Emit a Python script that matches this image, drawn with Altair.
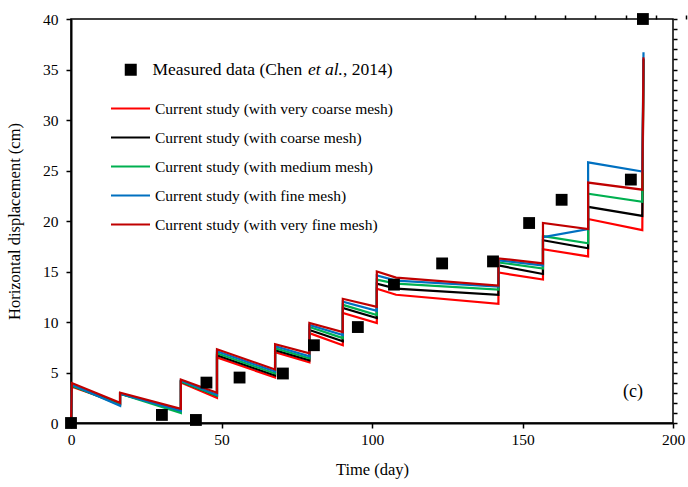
import altair as alt
import pandas as pd

# ---- data ----
jump_t = [0.0, 16.3, 36.5, 48.5, 67.8, 79.2, 90.3, 101.6, 142.0, 156.8, 171.8, 189.8]
mid_t = 108.0          # extra point inside the 101.6-142 segment (curved start)
final_t = 190.2

series_names = [
    "Current study (with very coarse mesh)",
    "Current study (with coarse mesh)",
    "Current study (with medium mesh)",
    "Current study (with fine mesh)",
    "Current study (with very fine mesh)",
]
series_colors = ["#ff0000", "#000000", "#00b050", "#0070c0", "#c00000"]

very_coarse_start = [3.6, 2.9, 4.0, 6.5, 7.0, 8.9, 10.9, 13.3, 14.9, 17.2, 20.2]
very_coarse_end = [1.9, 1.3, 2.5, 4.5, 6.0, 7.7, 9.9, 11.8, 14.2, 16.5, 19.1]
very_coarse_mid = 12.7
very_coarse_final = 36.0

coarse_start = [3.7, 2.9, 4.1, 6.7, 7.2, 9.2, 11.4, 13.8, 15.6, 18.1, 21.4]
coarse_end = [1.9, 1.2, 2.7, 4.7, 6.2, 8.1, 10.4, 12.7, 14.75, 17.3, 20.5]
coarse_mid = 13.3
coarse_final = 36.0

medium_start = [3.7, 2.9, 4.1, 6.9, 7.4, 9.5, 11.7, 14.2, 15.9, 18.5, 22.7]
medium_end = [1.8, 1.0, 2.7, 4.9, 6.4, 8.4, 10.7, 13.2, 15.3, 17.8, 21.9]
medium_mid = 13.8
medium_final = 36.0

fine_start = [3.8, 2.9, 4.2, 7.1, 7.6, 9.7, 12.0, 14.6, 16.1, 18.4, 25.8]
fine_end = [1.7, 1.2, 2.8, 5.1, 6.6, 8.7, 11.1, 13.5, 15.6, 19.2, 24.9]
fine_mid = 14.1
fine_final = 36.7

very_fine_start = [3.95, 3.0, 4.3, 7.3, 7.8, 9.9, 12.3, 15.0, 16.3, 19.8, 23.8]
very_fine_end = [2.0, 1.4, 3.0, 5.3, 6.9, 9.0, 11.5, 13.6, 15.8, 19.2, 23.1]
very_fine_mid = 14.4
very_fine_final = 36.2

measured_label_parts = ["Measured data (Chen", "et al.", ", 2014)"]
measured_t = [0, 30.2, 41.5, 45, 56, 70.4, 80.7, 95.3, 107.3, 123.3, 140.2, 152.2, 163, 186, 190]
measured_y = [0, 0.8, 0.3, 4.0, 4.5, 4.9, 7.7, 9.5, 13.7, 15.8, 16.0, 19.8, 22.1, 24.1, 40.0]

x_major = [0, 50, 100, 150, 200]
x_minor = list(range(0, 201, 10))
y_major = list(range(0, 41, 5))
y_minor = list(range(0, 41, 1))

# ---- build the line table ----
all_series = [
    (very_coarse_start, very_coarse_end, very_coarse_mid, very_coarse_final),
    (coarse_start, coarse_end, coarse_mid, coarse_final),
    (medium_start, medium_end, medium_mid, medium_final),
    (fine_start, fine_end, fine_mid, fine_final),
    (very_fine_start, very_fine_end, very_fine_mid, very_fine_final),
]
rows = []
for name, (st, en, mid, fin) in zip(series_names, all_series):
    pts = [(0.0, 0.0)]
    for i in range(len(st)):
        t0 = jump_t[i] + (0.3 if i == 0 else 0.0)
        pts.append((t0, st[i]))
        if i == 7:
            pts.append((mid_t, mid))
        pts.append((jump_t[i + 1], en[i]))
    pts.append((final_t, fin))
    for k, (t, y) in enumerate(pts):
        rows.append({"t": t, "y": y, "series": name, "seq": k})
lines_df = pd.DataFrame(rows)
meas_df = pd.DataFrame({"t": measured_t, "y": measured_y, "label": measured_label_parts[0]})

FONT = "Liberation Serif"
FS = 15.5
FS_MEAS = 17.5
xs = alt.Scale(domain=[0, 200], nice=False, zero=False)
ys = alt.Scale(domain=[0, 40], nice=False, zero=False)

lines = alt.Chart(lines_df).mark_line(strokeWidth=2.2, strokeJoin="miter").encode(
    x=alt.X("t:Q", scale=xs, axis=alt.Axis(
        values=x_major, title="Time (day)", orient="bottom", tickSize=5, tickWidth=1.5,
        domainWidth=2, labelPadding=4, titlePadding=14, format="d", labelFlush=False)),
    y=alt.Y("y:Q", scale=ys, axis=alt.Axis(
        values=y_major, title="Horizontal displacement (cm)", orient="left", tickSize=5,
        tickWidth=1.5, domainWidth=2, labelPadding=8, titlePadding=20, format="d",
        labelFlush=False)),
    color=alt.Color("series:N", scale=alt.Scale(domain=series_names, range=series_colors),
                    legend=alt.Legend(title=None, orient="none", legendX=39, legendY=69,
                                      symbolType="stroke", symbolSize=1521, symbolStrokeWidth=2,
                                      labelOffset=4, rowPadding=0, padding=0, labelLimit=400,
                                      labelFontSize=FS, labelFont=FONT, labelColor="black")),
    order=alt.Order("seq:Q"),
)

points = alt.Chart(meas_df).mark_point(shape="square", filled=True, size=140, opacity=1).encode(
    x=alt.X("t:Q", scale=xs, axis=None),
    y=alt.Y("y:Q", scale=ys, axis=None),
    color=alt.value("black"),
    shape=alt.Shape("label:N", scale=alt.Scale(range=["square"]),
                    legend=alt.Legend(title=None, orient="none", legendX=51, legendY=42,
                                      symbolSize=144, symbolFillColor="black",
                                      symbolStrokeColor="black", symbolOpacity=1,
                                      labelOffset=13, padding=0,
                                      labelLimit=400, labelFontSize=FS_MEAS, labelFont=FONT,
                                      labelColor="black")),
)

# rest of the measured-data legend label ("et al." in italics)
label_et = alt.Chart(pd.DataFrame({"txt": [measured_label_parts[1]]})).mark_text(
    font=FONT, fontSize=FS_MEAS, fontStyle="italic", color="black", align="left",
    baseline="middle"
).encode(text="txt:N", x=alt.value(237), y=alt.value(51))
label_tail = alt.Chart(pd.DataFrame({"txt": [measured_label_parts[2]]})).mark_text(
    font=FONT, fontSize=FS_MEAS, color="black", align="left", baseline="middle"
).encode(text="txt:N", x=alt.value(272), y=alt.value(51))

x_inner = alt.Chart(meas_df).mark_point(opacity=0).encode(
    x=alt.X("t:Q", scale=xs, axis=alt.Axis(
        values=x_minor, orient="top", position=404, labels=False, domain=False,
        title=None, tickSize=4, tickWidth=1.5, grid=False)),
    y=alt.Y("y:Q", scale=ys, axis=None),
)

y_inner = alt.Chart(meas_df).mark_point(opacity=0).encode(
    x=alt.X("t:Q", scale=xs, axis=None),
    y=alt.Y("y:Q", scale=ys, axis=alt.Axis(
        values=y_minor, orient="right", position=0, labels=False, domain=False,
        title=None, tickSize=4, tickWidth=1.5, grid=False)),
)

panel_tag = alt.Chart(pd.DataFrame({"tag": ["(c)"]})).mark_text(
    font=FONT, fontSize=18, color="black", align="center", baseline="middle"
).encode(text="tag:N", x=alt.value(562), y=alt.value(373))

chart = alt.layer(lines, points, label_et, label_tail, x_inner, y_inner, panel_tag).resolve_axis(
    x="independent", y="independent"
).properties(
    width=602, height=404,
    autosize=alt.AutoSizeParams(type="none"),
    padding={"left": 71, "top": 19, "right": 15, "bottom": 64},
    background="white",
).configure_view(
    stroke="black", strokeWidth=1.5
).configure_axis(
    grid=False, domainColor="black", tickColor="black",
    labelFont=FONT, labelFontSize=FS, labelColor="black",
    titleFont=FONT, titleFontSize=16.5, titleFontWeight="normal", titleColor="black",
)

chart.save("out.html", embed_options={"renderer": "svg", "actions": False})
